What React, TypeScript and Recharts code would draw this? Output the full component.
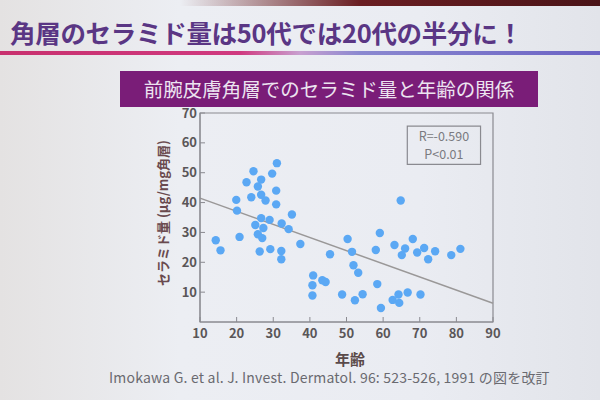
import React from 'react';
import {
  ScatterChart,
  Scatter,
  XAxis,
  YAxis,
  ReferenceLine,
  ReferenceArea,
} from 'recharts';

// age (years) vs stratum corneum ceramide (µg/mg)
const AGES = [
  14.3, 15.6, 19.9, 20.1, 20.8, 22.7, 24.0, 24.6, 25.8, 26.7,
  26.7, 27.9, 29.7, 31.0, 30.8, 30.8, 26.7, 29.0, 25.1, 27.3,
  25.8, 27.0, 26.3, 29.2, 32.3, 34.2, 35.1, 32.2, 32.2, 37.4,
  40.9, 40.7, 40.7, 43.4, 44.3, 45.5, 48.8, 50.3, 51.5, 51.9,
  53.2, 52.3, 54.4, 58.0, 59.1, 58.4, 59.4, 62.6, 64.2, 64.4,
  66.7, 70.2, 63.1, 64.8, 66.0, 65.1, 68.1, 69.3, 71.2, 72.3,
  74.2, 78.6, 81.1,
];
const CERAMIDE = [
  27.4, 24.0, 40.9, 37.3, 28.5, 46.8, 41.8, 50.5, 45.4, 47.7,
  42.6, 40.7, 49.7, 53.2, 44.0, 39.4, 34.8, 34.2, 32.5, 31.5,
  29.4, 28.1, 23.6, 24.4, 33.0, 31.1, 36.0, 23.8, 21.0, 26.1,
  15.6, 12.3, 8.9, 14.0, 13.4, 22.7, 9.2, 27.8, 23.5, 19.0,
  16.5, 7.3, 9.3, 24.1, 29.8, 12.7, 4.7, 7.4, 9.2, 6.4,
  9.9, 9.2, 25.8, 40.7, 24.6, 22.4, 27.8, 23.3, 24.8, 21.0,
  23.7, 22.4, 24.5,
];
// regression line end points
const FIT_X = [10, 90];
const FIT_Y = [41.5, 6.3];

const X_TICKS = [10, 20, 30, 40, 50, 60, 70, 80, 90];
const Y_TICKS = [10, 20, 30, 40, 50, 60, 70];

// stats box corners (data units)
const BOX_X = [66.6, 86.6];
const BOX_Y = [52.8, 65.6];

const points = AGES.map((x, i) => ({ x, y: CERAMIDE[i] }));

const FONT = '"Noto Sans CJK JP", "Noto Sans", sans-serif';
const AXIS = '#8a8a90';
const TICK = { fontSize: 13, fill: '#5a5658', fontFamily: FONT, fontWeight: 600 };

const StatsLabel = ({ viewBox }: any) => {
  const cx = viewBox.x + viewBox.width / 2;
  const cy = viewBox.y + viewBox.height / 2;
  return (
    <g fontFamily={FONT} fontSize={12.5} fill="#7a7a80" textAnchor="middle">
      <text x={cx} y={cy - 4}>R=-0.590</text>
      <text x={cx} y={cy + 14}>P&lt;0.01</text>
    </g>
  );
};

export default function App() {
  return (
    <div
      style={{
        position: 'absolute',
        left: 0,
        top: 0,
        width: 600,
        height: 400,
        overflow: 'hidden',
        fontFamily: FONT,
        background: 'linear-gradient(90deg, #e4e2e2 0%, #eceef3 30%, #eaecf2 70%, #e2e4ea 100%)',
      }}
    >
      {/* photo edge at top */}
      <div
        style={{
          position: 'absolute',
          left: 0,
          top: 0,
          width: 600,
          height: 6,
          background: 'linear-gradient(90deg, rgba(120,40,40,0) 30%, #6a1e22 60%, #4a1418 100%)',
        }}
      />
      {/* title */}
      <div
        style={{
          position: 'absolute',
          left: 10,
          top: 13,
          fontSize: 25.5,
          fontWeight: 700,
          color: '#5a3684',
          whiteSpace: 'nowrap',
          letterSpacing: '-0.3px',
        }}
      >
        角層のセラミド量は50代では20代の半分に！
      </div>
      <div
        style={{
          position: 'absolute',
          left: 0,
          top: 51,
          width: 600,
          height: 4,
          background: 'linear-gradient(90deg, #c8306e 0%, #d03a80 40%, #c8a0d0 50%, #8a88d0 60%, #6a62c4 100%)',
        }}
      />
      {/* subtitle band */}
      <div
        style={{
          position: 'absolute',
          left: 120,
          top: 71,
          width: 418,
          height: 36,
          background: '#7a1d78',
          color: '#ece4f0',
          fontSize: 19.5,
          lineHeight: '36px',
          textAlign: 'center',
          whiteSpace: 'nowrap',
        }}
      >
        前腕皮膚角層でのセラミド量と年齢の関係
      </div>

      <div style={{ position: 'absolute', left: 0, top: 0 }}>
        <ScatterChart width={600} height={400} margin={{ top: 113, right: 107, bottom: 48, left: 160 }}>
          <XAxis
            type="number"
            dataKey="x"
            domain={[10, 90]}
            ticks={X_TICKS}
            interval={0}
            height={30}
            stroke={AXIS}
            tickSize={-5}
            tickMargin={12}
            tick={TICK}
          />
          <YAxis
            type="number"
            dataKey="y"
            domain={[0, 70]}
            ticks={Y_TICKS}
            interval={0}
            width={40}
            stroke={AXIS}
            tickSize={-5}
            tickMargin={8}
            tick={TICK}
          />
          <ReferenceArea x1={10} x2={90} y1={0} y2={70} fill="none" stroke={AXIS} strokeWidth={1.2} />
          <ReferenceArea
            x1={BOX_X[0]}
            x2={BOX_X[1]}
            y1={BOX_Y[0]}
            y2={BOX_Y[1]}
            fill="none"
            stroke="#8a8a90"
            strokeWidth={1.2}
            label={<StatsLabel />}
          />
          <ReferenceLine
            segment={[
              { x: FIT_X[0], y: FIT_Y[0] },
              { x: FIT_X[1], y: FIT_Y[1] },
            ]}
            stroke="#9a9898"
            strokeWidth={1.5}
          />
          <Scatter
            data={points}
            fill="#5aa6f2"
            isAnimationActive={false}
            shape={(p: any) => <circle cx={p.cx} cy={p.cy} r={4.2} fill="#5ba8f4" />}
          />
        </ScatterChart>
      </div>

      {/* y axis title */}
      <div
        style={{
          position: 'absolute',
          left: 162,
          top: 213,
          transform: 'translate(-50%, -50%) rotate(-90deg)',
          fontSize: 13,
          fontWeight: 600,
          color: '#6a4a4e',
          whiteSpace: 'nowrap',
        }}
      >
        セラミド量 (μg/mg角層)
      </div>
      {/* x axis title */}
      <div
        style={{
          position: 'absolute',
          left: 350,
          top: 358,
          transform: 'translate(-50%, -50%)',
          fontSize: 15,
          lineHeight: '15px',
          fontWeight: 700,
          color: '#5a4a4a',
          whiteSpace: 'nowrap',
        }}
      >
        年齢
      </div>
      {/* source */}
      <div
        style={{
          position: 'absolute',
          left: 109,
          top: 370,
          fontSize: 14,
          lineHeight: '14px',
          letterSpacing: '0.2px',
          color: '#6a6a70',
          whiteSpace: 'nowrap',
        }}
      >
        Imokawa G. et al. J. Invest. Dermatol. 96: 523-526, 1991 の図を改訂
      </div>
    </div>
  );
}
